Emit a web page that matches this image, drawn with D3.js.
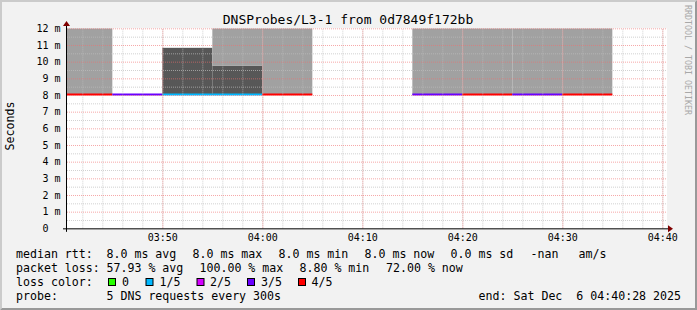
<!DOCTYPE html>
<html>
<head>
<meta charset="utf-8">
<script src="https://cdn.jsdelivr.net/npm/d3@7"></script>
<style>
  body { margin: 0; background: #f2f2f2; }
  svg text { font-family: "DejaVu Sans Mono", monospace; }
</style>
</head>
<body>
<div id="chart"></div>
<script>
// chart data (seconds), one entry per 5 minute step
var stepStart = ["03:40", "03:45", "03:50", "03:55", "04:00", "04:05", "04:10", "04:15", "04:20", "04:25", "04:30"];
var median = [0.008, 0.008, 0.008, 0.008, 0.008, null, null, 0.008, 0.008, 0.008, 0.008];
var lossCount = [4, 3, 1, 1, 4, null, null, 3, 4, 3, 4];
var smokeDarkTop = [null, null, 0.01083, 0.00975, null, null, null, null, null, null, null];
var smokeLightTop = [0.012, null, null, 0.012, 0.012, null, null, 0.012, 0.012, 0.012, 0.012];

var lossLabels = ["0", "1/5", "2/5", "3/5", "4/5"];
var lossColors = ["#26ff00", "#00b8ff", "#d400ff", "#6a00ff", "#ff0000"];
var yTickValues = [0, 0.001, 0.002, 0.003, 0.004, 0.005, 0.006, 0.007, 0.008, 0.009, 0.010, 0.011, 0.012];

var graphStart = "2025-12-06 03:40:28";
var graphEnd = "2025-12-06 04:40:28";
var stepSeconds = 300;

var titleText = "DNSProbes/L3-1 from 0d7849f172bb";
var rttStats = ["8.0 ms avg", "8.0 ms max", "8.0 ms min", "8.0 ms now", "0.0 ms sd", "-nan", "am/s"];
var lossStats = ["57.93 % avg", "100.00 % max", "8.80 % min", "72.00 % now"];
var probeText = "5 DNS requests every 300s";
var endText = "end: Sat Dec  6 04:40:28 2025";

//set chart
var svgWidth = 697;
var svgHeight = 310;
var plot = { left: 67, right: 667, top: 28.33, bottom: 228.33 };

var parseFull = d3.timeParse("%Y-%m-%d %H:%M:%S");
var parseStep = d3.timeParse("%Y-%m-%d %H:%M");

var steps = stepStart.map(function (s, i) {
  var t0 = parseStep("2025-12-06 " + s);
  return {
    t0: t0,
    t1: new Date(t0.getTime() + stepSeconds * 1000),
    median: median[i],
    loss: lossCount[i],
    dark: smokeDarkTop[i],
    light: smokeLightTop[i]
  };
});

var svg = d3.select("#chart")
  .append("svg")
  .attr("width", svgWidth)
  .attr("height", svgHeight);

// background + 3d frame
svg.append("rect").attr("width", svgWidth).attr("height", svgHeight).attr("fill", "#f2f2f2");
svg.append("path")
  .attr("d", `M0,0 H${svgWidth} L${svgWidth - 2},2 H2 V${svgHeight - 2} L0,${svgHeight} Z`)
  .attr("fill", "#cbcbcb");
svg.append("path")
  .attr("d", `M${svgWidth},0 V${svgHeight} H0 L2,${svgHeight - 2} H${svgWidth - 2} V2 Z`)
  .attr("fill", "#999999");

//scales
var x = d3.scaleTime()
  .domain([parseFull(graphStart), parseFull(graphEnd)])
  .range([plot.left, plot.right]);

var y = d3.scaleLinear()
  .domain([0, 0.012])
  .range([plot.bottom, plot.top]);

// canvas
svg.append("rect")
  .attr("x", plot.left).attr("y", plot.top)
  .attr("width", plot.right - plot.left).attr("height", plot.bottom - plot.top)
  .attr("fill", "#ffffff");

svg.append("clipPath").attr("id", "clip")
  .append("rect")
  .attr("x", plot.left).attr("y", plot.top)
  .attr("width", plot.right - plot.left).attr("height", plot.bottom - plot.top + 2);

var g = svg.append("g").attr("clip-path", "url(#clip)");

// smoke: dark part
g.selectAll("rect.dark")
  .data(steps.filter(d => d.dark != null))
  .enter().append("rect")
  .attr("class", "dark")
  .attr("x", d => x(d.t0))
  .attr("width", d => x(d.t1) - x(d.t0))
  .attr("y", d => y(d.dark))
  .attr("height", d => y(d.median) - y(d.dark))
  .attr("fill", "#575757");

// smoke: light part
g.selectAll("rect.light")
  .data(steps.filter(d => d.light != null))
  .enter().append("rect")
  .attr("class", "light")
  .attr("x", d => x(d.t0))
  .attr("width", d => x(d.t1) - x(d.t0))
  .attr("y", d => y(d.light))
  .attr("height", d => y(d.dark != null ? d.dark : d.median) - y(d.light))
  .attr("fill", "#a1a1a1");

// grid (on top of smoke, like rrdtool)
var grid = svg.append("g");

grid.append("g")
  .attr("transform", `translate(0,${plot.bottom})`)
  .call(d3.axisBottom(x).ticks(d3.timeMinute.every(2)).tickSize(-(plot.bottom - plot.top)).tickFormat(""))
  .call(a => a.select(".domain").remove())
  .selectAll("line")
  .attr("stroke", "rgba(190,190,190,0.7)")
  .attr("stroke-dasharray", "1,1");

grid.append("g")
  .attr("transform", `translate(${plot.left},0)`)
  .call(d3.axisLeft(y).tickValues(d3.range(0.0005, 0.012, 0.001)).tickSize(-(plot.right - plot.left)).tickFormat(""))
  .call(a => a.select(".domain").remove())
  .selectAll("line")
  .attr("stroke", "rgba(190,190,190,0.7)")
  .attr("stroke-dasharray", "1,1");

grid.append("g")
  .attr("transform", `translate(0,${plot.bottom})`)
  .call(d3.axisBottom(x).ticks(d3.timeMinute.every(10)).tickSize(-(plot.bottom - plot.top)).tickFormat(""))
  .call(a => a.select(".domain").remove())
  .selectAll("line")
  .attr("stroke", "rgba(240,110,110,0.6)")
  .attr("stroke-dasharray", "1,1");

grid.append("g")
  .attr("transform", `translate(${plot.left},0)`)
  .call(d3.axisLeft(y).tickValues(yTickValues.slice(1)).tickSize(-(plot.right - plot.left)).tickFormat(""))
  .call(a => a.select(".domain").remove())
  .selectAll("line")
  .attr("stroke", "rgba(240,110,110,0.6)")
  .attr("stroke-dasharray", "1,1");

// median line coloured by loss
g.selectAll("line.median")
  .data(steps.filter(d => d.median != null))
  .enter().append("line")
  .attr("class", "median")
  .attr("x1", d => x(d.t0))
  .attr("x2", d => x(d.t1))
  .attr("y1", d => y(d.median) - 0.5)
  .attr("y2", d => y(d.median) - 0.5)
  .attr("stroke", d => lossColors[d.loss])
  .attr("stroke-width", 2);

// axes labels
var xAxis = svg.append("g")
  .attr("transform", `translate(0,${plot.bottom})`)
  .call(d3.axisBottom(x).ticks(d3.timeMinute.every(10)).tickFormat(d3.timeFormat("%H:%M")).tickSize(0).tickPadding(6));
xAxis.select(".domain").remove();
xAxis.selectAll("text").attr("font-family", "DejaVu Sans Mono").attr("font-size", "10px").attr("fill", "#000");

var yAxis = svg.append("g")
  .attr("transform", `translate(${plot.left},0)`)
  .call(d3.axisLeft(y).tickValues(yTickValues).tickSize(0).tickPadding(6.5)
    .tickFormat(d => d === 0 ? "0\u00a0\u00a0" : Math.round(d * 1000) + " m"));
yAxis.select(".domain").remove();
yAxis.selectAll("text").attr("font-family", "DejaVu Sans Mono").attr("font-size", "10px").attr("fill", "#000");

// axis lines and arrows
svg.append("line")
  .attr("x1", 63).attr("x2", 669).attr("y1", plot.bottom + 0.5).attr("y2", plot.bottom + 0.5)
  .attr("stroke", "#000");
svg.append("line")
  .attr("x1", plot.left - 0.5).attr("x2", plot.left - 0.5).attr("y1", plot.bottom + 3.5).attr("y2", 25)
  .attr("stroke", "#000");
svg.append("path")
  .attr("d", `M668,${plot.bottom - 3} L673,${plot.bottom + 0.5} L668,${plot.bottom + 4} Z`)
  .attr("fill", "#800000");
svg.append("path")
  .attr("d", `M${plot.left - 4},26 L${plot.left - 0.5},21 L${plot.left + 3},26 Z`)
  .attr("fill", "#800000");

// title, vertical label, watermark
svg.append("text")
  .attr("x", 348).attr("y", 24)
  .attr("text-anchor", "middle")
  .attr("font-size", "13px")
  .text(titleText);

svg.append("text")
  .attr("transform", "translate(14,126) rotate(-90)")
  .attr("text-anchor", "middle")
  .attr("font-size", "11.6px")
  .text("Seconds");

svg.append("text")
  .attr("transform", "translate(685,60) rotate(90)")
  .attr("text-anchor", "middle")
  .attr("font-size", "8.3px")
  .attr("fill", "#a8a8a8")
  .text("RRDTOOL / TOBI OETIKER");

// legend
var legend = svg.append("g").attr("font-size", "11.6px").attr("fill", "#000");

function legendText(xPos, yPos, txt) {
  legend.append("text").attr("x", xPos).attr("y", yPos).style("white-space", "pre").text(txt);
}

legendText(16, 258, "median rtt:");
var rttX = [106.5, 192.5, 278.5, 364.5, 450.5, 530.5, 578.5];
rttStats.forEach((s, i) => legendText(rttX[i], 258, s));

legendText(16, 272, "packet loss:");
var lossX = [106.5, 199.5, 299.5, 386];
lossStats.forEach((s, i) => legendText(lossX[i], 272, s));

legendText(16, 286, "loss color:");
var swatchX = [108.5, 146, 197, 247.5, 298.5];
var swatchLabelX = [122, 159.5, 210, 261, 311.5];
lossLabels.forEach(function (lab, i) {
  legend.append("rect")
    .attr("x", swatchX[i]).attr("y", 278.5)
    .attr("width", 7).attr("height", 7)
    .attr("fill", lossColors[i])
    .attr("stroke", "#000");
  legendText(swatchLabelX[i], 286, lab);
});

legendText(16, 300, "probe:");
legendText(106.5, 300, probeText);
legend.append("text").attr("x", 681).attr("y", 300).attr("text-anchor", "end").style("white-space", "pre").text(endText);
</script>
</body>
</html>
